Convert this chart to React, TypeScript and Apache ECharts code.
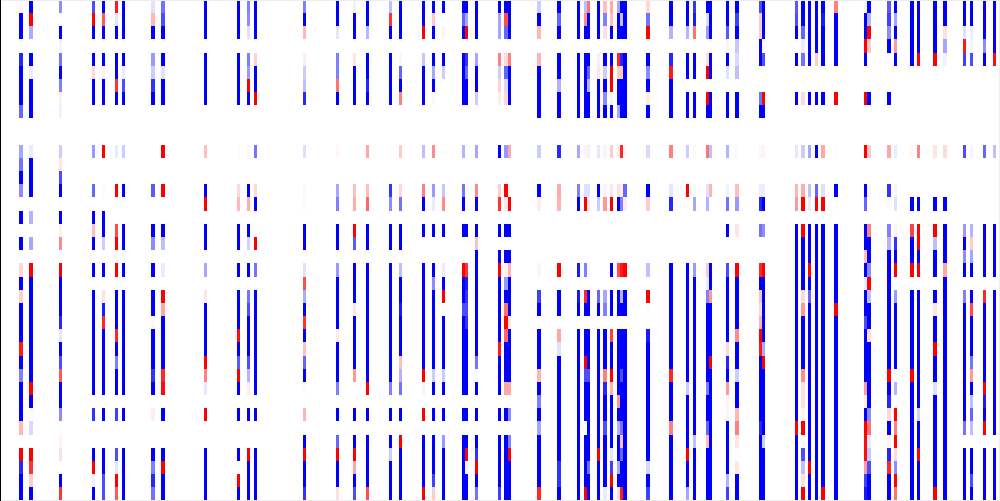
import React, { useEffect, useRef } from "react";
import * as echarts from "echarts";

const COLUMN_COUNT = 303;
const ROW_COUNT = 38;
const B = -1;
const R = 1;

const c6 = [.03,B,B,0,-.85,B,B,B,-.6,0,0,-.35,-.55, B,-.45,0,B,0,B,0,.15,B,.2,B,B,B, .9,B,-.5,B,B,B,.28,0,R,-.85,B,B];
const c9 = [B,R,-.33,0,B,-.07,B,B,B,0,0,-.08,B, B,B,0,-.3,0,-.35,0,R,B,B,B,B,B, B,B,B,R,B,-.02,-.15,0,R,.8,.2,B];
const c18 = [-.45,0,B,-.04,-.55,B,-.5,.06,-.06,0,0,-.2,.1, -.7,B,.01,B,.06,.45,0,R,B,B,B,-.85,-.1, B,-.7,.65,B,B,-.45,.01,.05,.12,0,B,.8];
const c28 = [-.7,R,B,0,B,.15,B,B,0,0,0,-.4,0, 0,-.6,0,B,.25,B,0,B,0,B,B,B,B, B,B,B,B,0,-.8,0,0,B,R,-.05,B];
const c31 = [B,.65,B,0,B,.05,B,B,0,0,0,R,0, 0,.02,0,B,B,-.2,0,B,0,.12,-.9,.85,B, B,B,B,B,0,B,0,0,B,B,-.7,-.7];
const c35 = [.9,-.1,B,0,B,B,.8,B,0,0,0,-.08,0, 0,R,0,0,.7,R,0,R,0,B,B,B,.85, B,-.5,B,B,0,-.75,0,0,-.7,-.1,R,.65];
const c37 = [B,B,B,0,B,-.08,-.7,B,0,0,0,-.2,0, 0,B,0,0,B,B,0,B,0,B,B,B,B, B,B,B,B,0,B,0,0,B,B,B,B];
const c46 = [-.12,.28,B,0,-.4,-.2,-.8,B,0,0,0,0,0, 0,-.65,0,0,B,-.45,0,B,0,B,B,.04,B, B,B,-.8,B,0,.07,0,0,B,-.5,-.85,-.55];
const c49 = [-.55,-.7,B,0,B,-.12,B,B,0,0,0,R,0, 0,R,0,0,B,-.25,0,-.08,0,R,.35,B,B, B,B,.85,.95,0,B,0,0,B,R,B,B];
const c62 = [B,B,B,0,B,B,B,B,0,0,0,.25,0, 0,B,R,0,B,B,0,-.35,0,.1,B,B,B, B,R,.5,-.1,0,R,0,0,B,B,B,B];
const c72 = [B,B,B,0,B,B,B,B,0,0,0,-.02,0, 0,.15,.28,0,B,B,0,B,0,B,B,B,.95, B,-.65,R,B,0,B,0,0,B,.01,R,B];
const c75 = [-.5,-.45,-.12,0,-.5,-.4,R,B,0,0,0,.03,0, 0,B,.32,0,B,-.18,0,B,0,-.55,-.7,B,B, B,-.7,-.3,.07,0,B,0,0,R,B,B,B];
const c77 = [B,B,B,0,.18,B,B,R,0,0,0,-.55,0, 0,.15,B,0,.01,R,0,-.55,0,B,B,B,B, B,B,B,B,0,B,0,0,B,B,B,B];
const c92 = [-.5,B,.28,0,.07,-.2,-.25,-.85,0,0,0,-.13,0, 0,.03,-.02,0,B,B,0,-.12,.7,-.33,B,.8,B, .25,-.6,B,-.01,0,.3,0,B,R,B,B,-.8];
const c102 = [B,B,-.1,0,-.5,-.5,.55,B,0,0,0,.03,0, 0,-.35,-.5,0,B,B,0,-.4,B,B,B,B,.07, B,B,B,-.5,0,B,0,-.6,R,B,B,.12];
const c107 = [-.06,B,B,0,.1,B,B,B,0,0,0,0,0, 0,.25,.33,0,R,-.65,0,B,B,B,.1,B,B, B,B,.4,0,0,B,0,B,R,.35,B,-.7];
const c111 = [B,B,-.28,0,B,B,-.85,B,0,0,0,.35,0, 0,.25,.6,0,B,B,0,B,B,B,B,B,B, B,B,B,R,0,B,0,B,B,B,B,.7];
const c118 = [-.25,.8,B,0,B,B,B,B,0,0,0,.01,0, 0,-.8,-.45,0,B,B,0,B,B,B,B,B,B, B,B,B,-.5,0,B,0,B,-.2,B,B,B];
const c121 = [B,B,B,0,.04,-.6,B,.5,0,0,0,.2,0, 0,.15,-.55,0,B,B,0,-.25,B,B,-.9,B,B, B,.25,-.3,-.55,0,B,0,R,B,B,B,B];
const c128 = [B,B,R,0,-.22,B,B,B,0,0,0,-.25,0, 0,.5,B,0,B,0,0,B,B,B,B,B,B, B,B,R,.05,0,R,0,B,B,B,B,R];
const c131 = [B,.22,B,0,B,-.35,B,-.03,0,0,0,.45,0, 0,-.4,-.08,0,B,0,0,B,-.45,B,B,B,B, B,B,-.2,B,0,B,0,B,B,B,-.75,.2];
const c134 = [B,0,.05,0,B,-.2,0,0,0,0,0,.01,0, 0,-.22,.45,0,B,0,0,-.08,B,R,-.02,B,B, B,B,-.2,B,0,B,0,-.4,B,B,B,B];
const c140 = [B,-.6,B,0,B,B,B,B,0,0,0,-.3,0, 0,-.55,B,0,B,0,0,R,B,B,-.7,B,B, B,B,B,B,0,B,0,B,B,B,B,B];
const c141 = [B,-.35,R,0,-.8,-.6,B,B,0,0,0,0,0, 0,0,0,0,B,0,0,.8,-.9,-.8,-.7,-.8,B, B,B,B,B,0,B,0,B,R,-.05,B,B];
const c144 = [B,B,B,0,-.35,B,B,-.2,0,0,0,-.35,0, 0,.45,B,0,B,.25,B,B,B,B,B,B,B, B,-.55,-.02,B,0,B,0,B,-.8,R,B,-.55];
const c151 = [B,-.35,-.35,0,.5,-.2,.18,.07,0,0,0,B,0, 0,.2,.8,0,B,0,B,R,B,B,B,B,B, .9,B,B,B,0,B,0,B,B,B,B,-.75];
const c153 = [B,.7,-.6,0,.15,-.6,-.15,.15,0,0,0,-.4,0, 0,R,.1,0,B,0,B,.05,-.4,B,.55,R,.6, B,B,B,.35,0,B,0,B,B,B,B,B];
const c154 = [B,B,B,0,.5,B,B,B,0,0,0,.35,0, 0,.05,R,0,B,0,B,.3,B,B,B,.1,B, B,B,B,.35,0,-.45,0,-.5,R,B,B,B];
const c163 = [-.2,B,.28,0,.3,B,B,B,B,0,0,-.2,0, 0,B,.07,0,0,0,0,-.03,0,-.75,B,0,B, B,B,.3,B,-.5,B,-.35,B,B,B,B,.85];
const c169 = [B,-.6,B,0,B,B,-.3,B,B,0,0,-.85,0, 0,.33,.3,0,0,0,0,R,0,B,B,0,.35, -.12,B,B,B,B,B,B,B,B,-.8,-.8,B];
const c175 = [B,B,B,0,B,B,B,B,B,0,0,-.35,0, 0,-.5,B,0,0,0,0,-.9,0,-.9,B,0,B, B,B,B,B,B,B,B,B,B,B,B,B];
const c177 = [-.25,.45,B,0,B,B,B,B,B,0,0,.05,0, 0,-.12,R,0,0,0,0,-.5,0,.85,B,0,B, B,R,-.7,B,B,B,0,B,B,B,B,R];
const c178 = [.55,B,B,0,B,-.6,-.3,B,B,0,0,-.05,0, 0,-.12,.08,0,0,0,0,-.03,0,B,B,0,B, B,B,-.7,B,B,B,B,B,B,-.55,B,B];
const c181 = [B,B,B,0,-.05,.1,B,B,B,0,0,-.1,0, 0,B,-.2,0,0,0,0,0,0,-.6,B,0,B, B,B,B,B,B,B,B,B,R,B,B,B];
const c183 = [.25,-.5,.12,0,B,-.2,B,-.45,B,0,0,-.04,0, 0,-.03,.4,0,0,0,0,0,0,-.35,-.5,0,B, B,B,.5,-.85,B,B,-.7,B,B,B,B,-.08];
const c185 = [.35,.25,B,0,B,R,R,-.04,B,0,0,.2,0, 0,.1,R,0,0,0,0,B,0,B,B,0,.75, B,B,R,.3,B,B,B,B,-.1,-.75,R,B];
const c187 = [-.35,B,B,0,.85,.2,B,B,-.35,0,0,.07,0, 0,.12,B,0,0,0,0,.7,0,B,B,0,B, B,B,B,B,.4,B,-.3,B,B,-.35,B,.12];
const c188 = [B,-.25,B,0,-.85,.2,B,B,B,0,0,.85,0, 0,.08,-.5,0,0,0,0,.9,0,-.3,B,0,B, B,B,-.7,B,B,B,-.55,.25,-.6,B,B,.9];
const c189 = [B,B,B,0,B,B,B,B,B,0,0,.03,0, 0,-.6,.08,0,0,0,0,R,0,B,B,0,B, B,B,B,B,B,B,B,B,B,B,B,B];
const c196 = [.15,-.55,R,0,B,-.45,B,.07,B,0,0,-.15,0, 0,B,.2,0,0,0,0,-.25,0,R,.01,0,-.9, B,B,B,B,B,B,B,B,B,-.15,B,-.75];
const c203 = [B,B,-.3,0,-.85,.9,B,B,B,0,0,.5,0, 0,-.1,-.85,0,0,0,0,B,B,B,B,B,B, B,B,.85,B,B,B,.5,B,B,B,B,B];
const c208 = [B,B,-.3,0,B,B,0,B,B,0,0,-.2,0, 0,R,0,0,0,0,0,B,B,B,B,B,B, B,B,B,-.2,B,B,B,B,R,B,B,-.35];
const c210 = [-.8,-.9,.55,0,B,B,0,B,B,0,0,.03,0, 0,-.03,-.35,0,0,0,0,-.4,B,B,B,B,B, B,B,B,B,B,B,B,-.25,B,B,B,B];
const c214 = [B,-.12,-.4,0,.12,R,0,R,B,0,0,.55,0, 0,-.12,-.3,0,0,0,0,.2,-.08,-.5,B,B,B, B,B,B,-.5,B,B,-.6,.25,B,B,B,B];
const c215 = [B,B,B,0,B,B,0,B,B,0,0,-.25,0, 0,.3,0,0,0,0,0,B,B,.4,B,B,B, B,R,B,B,B,B,B,B,B,B,B,B];
const c220 = [B,B,-.65,.05,B,-.12,0,B,B,0,0,-.3,0, 0,-.05,-.55,0,B,0,0,-.7,B,B,B,B,B, .15,-.85,B,.4,.05,-.03,B,B,B,B,-.3,-.75];
const c223 = [B,-.75,B,-.22,-.15,-.25,0,B,B,0,0,-.02,0, 0,.25,-.4,0,.1,0,0,R,B,B,B,B,.45, B,B,-.2,B,B,.28,.5,.1,.01,.1,B,B];
const c230 = [-.7,.2,.2,B,B,0,0,-.55,B,0,0,.03,0, 0,-.07,-.85,0,-.55,0,0,.85,B,.25,.15,.3,R, .9,B,B,B,B,B,-.85,B,B,B,B,B];
const c231 = [B,B,B,.03,-.7,0,0,R,B,0,0,.05,0, 0,-.07,B,0,-.45,0,0,R,B,B,B,B,B, -.35,R,B,B,B,B,B,-.2,B,B,B,B];
const c241 = [-.65,-.7,B,0,B,0,0,B,0,0,0,-.1,0, 0,.3,.4,0,B,B,B,B,B,B,B,B,B, B,B,B,B,B,B,R,B,B,B,B,B];
const c243 = [B,B,-.6,-.07,-.55,0,0,.15,0,0,0,-.2,0, 0,.33,R,0,R,B,B,B,B,.15,.4,B,B, B,B,.45,.12,.12,.05,R,-.02,-.7,-.25,.12,R];
const c245 = [B,B,B,B,B,0,0,B,0,0,0,-.35,0, 0,-.25,-.08,0,B,B,B,R,B,-.6,B,B,B, B,B,B,B,B,B,B,B,B,R,B,B];
const c247 = [B,B,B,B,.2,0,0,B,0,0,0,B,0, 0,-.6,R,0,B,B,B,B,B,B,B,B,B, B,B,B,B,B,B,B,B,B,B,B,B];
const c249 = [B,-.9,B,B,B,0,0,B,0,0,0,.35,0, 0,-.12,R,0,B,B,B,B,B,B,B,B,B, B,B,B,B,B,B,B,B,B,B,B,R];
const c253 = [.5,B,B,B,B,0,0,R,0,0,0,.01,0, 0,B,.01,0,B,B,B,B,B,B,R,B,B, B,B,B,B,B,B,B,B,B,B,B,B];
const c262 = [-.05,B,B,R,B,0,0,R,0,0,0,R,0, 0,B,-.6,0,B,B,.25,B,-.07,B,B,-.7,B, B,B,B,.4,.07,B,R,.95,.95,.4,-.75,-.9];
const c263 = [B,-.3,R,.2,0,0,0,B,0,0,0,.2,0, 0,.04,0,0,.5,B,B,-.45,R,-.25,B,B,.15, B,B,B,B,B,-.45,.55,-.1,-.22,-.7,B,B];
const c269 = [-.65,-.75,-.45,B,-.02,0,0,B,0,0,0,.35,0, 0,-.8,-.01,0,-.5,-.3,B,B,B,B,B,B,B, B,B,R,B,-.85,.15,B,.05,-.85,.85,B,B];
const c271 = [B,-.35,B,.4,B,0,0,0,0,0,0,-.08,0, 0,.05,-.12,0,.05,-.8,B,R,0,-.4,B,B,B, B,B,-.02,-.3,0,R,.5,R,.15,-.45,R,.55];
const c276 = [B,B,B,B,B,0,0,0,0,0,0,.04,0, 0,0,B,0,.75,B,B,R,0,B,B,B,B, B,B,R,B,B,B,B,B,B,B,B,B];
const c278 = [B,B,B,B,R,0,0,0,0,0,0,.5,0, 0,0,B,0,R,R,B,R,0,B,B,B,B, B,B,B,B,B,-.18,B,B,R,B,B,B];
const c283 = [B,B,B,B,R,0,0,0,0,0,0,.1,0, 0,0,B,0,R,-.25,B,B,0,B,.1,B,B, R,B,B,-.12,B,B,B,B,B,B,B,R];
const c286 = [B,B,.12,-.35,-.05,0,0,0,0,0,0,.15,0, 0,0,B,0,B,B,B,.35,B,B,B,B,B, B,B,B,B,B,B,B,B,B,B,B,B];
const c292 = [B,B,-.12,.9,-.75,0,0,0,0,0,0,-.7,0, 0,0,0,0,-.4,B,-.45,B,0,-.5,B,B,B, B,B,B,B,B,B,-.55,0,B,B,B,B];
const c294 = [B,B,-.07,-.04,-.7,0,0,0,0,0,0,-.04,0, 0,0,0,0,-.3,.2,-.35,B,0,B,.7,B,B, B,-.55,.4,B,-.25,-.6,-.25,0,B,B,-.7,B];
const c298 = [B,B,B,-.45,B,0,0,0,0,0,0,-.6,0, 0,0,0,0,B,B,B,B,0,.85,B,B,B, B,B,B,R,-.9,B,R,0,B,B,B,B];
const c301 = [B,B,B,B,.95,0,0,0,0,0,0,-.25,0, 0,0,0,0,B,B,B,B,0,B,B,B,B, B,B,B,B,B,B,B,0,B,B,B,B];

const columnTable: [number, number[]][] = [
  [6,c6],[9,c9],[18,c18],[28,c28],[31,c31],[35,c35],[37,c37],[46,c46],[49,c49],[62,c62],[72,c72],[75,c75],[77,c77],[92,c92],
  [102,c102],[107,c107],[111,c111],[118,c118],[121,c121],[128,c128],[131,c131],[134,c134],[140,c140],[141,c141],[144,c144],
  [151,c151],[153,c153],[154,c154],[163,c163],[169,c169],[175,c175],[177,c177],[178,c178],[181,c181],[183,c183],[185,c185],
  [187,c187],[188,c188],[189,c189],[196,c196],[203,c203],[208,c208],[210,c210],[214,c214],[215,c215],[220,c220],[223,c223],
  [230,c230],[231,c231],[241,c241],[243,c243],[245,c245],[247,c247],[249,c249],[253,c253],[262,c262],[263,c263],[269,c269],
  [271,c271],[276,c276],[278,c278],[283,c283],[286,c286],[292,c292],[294,c294],[298,c298],[301,c301],
];

const cells: number[][] = [];
columnTable.forEach(([col, values]) => {
  values.forEach((v, row) => {
    if (v !== 0) cells.push([col, row, v]);
  });
});

export default function App() {
  const ref = useRef<HTMLDivElement>(null);
  useEffect(() => {
    document.body.style.margin = "0";
    document.body.style.overflow = "hidden";
    const chart = echarts.init(ref.current!, undefined, { renderer: "svg" });
    chart.setOption({
      animation: false,
      backgroundColor: "#ffffff",
      grid: { left: 0, top: 0.3, width: 1000, height: 501.6, containLabel: false },
      xAxis: { type: "value", min: 0, max: COLUMN_COUNT, show: false },
      yAxis: { type: "value", min: 0, max: ROW_COUNT, inverse: true, show: false },
      visualMap: {
        show: false,
        type: "continuous",
        min: -1,
        max: 1,
        dimension: 2,
        seriesIndex: 0,
        inRange: { color: ["#0000ff", "#ffffff", "#ff0000"] },
      },
      series: [
        {
          type: "custom",
          data: cells,
          clip: false,
          encode: { x: 0, y: 1 },
          renderItem: (_params: any, api: any) => {
            const col = api.value(0);
            const row = api.value(1);
            const a = api.coord([col, row]);
            const b = api.coord([col + 1, row + 1]);
            const x0 = Math.floor(a[0]);
            const x1 = Math.floor(b[0]);
            const y0 = Math.floor(a[1]);
            const y1 = Math.floor(b[1]);
            return {
              type: "rect",
              shape: { x: x0, y: y0, width: x1 - x0, height: y1 - y0 },
              style: { fill: api.visual("color"), stroke: null },
            };
          },
        },
      ],
      graphic: [
        { type: "rect", z: 100, shape: { x: 0, y: 0, width: 1000, height: 1 }, style: { fill: "#eeeeee" } },
        { type: "rect", z: 100, shape: { x: 0, y: 500, width: 1000, height: 1 }, style: { fill: "#eeeeee" } },
        { type: "rect", z: 100, shape: { x: 999, y: 0, width: 1, height: 501 }, style: { fill: "#eeeeee" } },
        { type: "rect", z: 101, shape: { x: 0, y: 0, width: 1, height: 501 }, style: { fill: "#000000" } },
      ],
    });
    return () => chart.dispose();
  }, []);
  return <div ref={ref} style={{ width: 1000, height: 501 }} />;
}
